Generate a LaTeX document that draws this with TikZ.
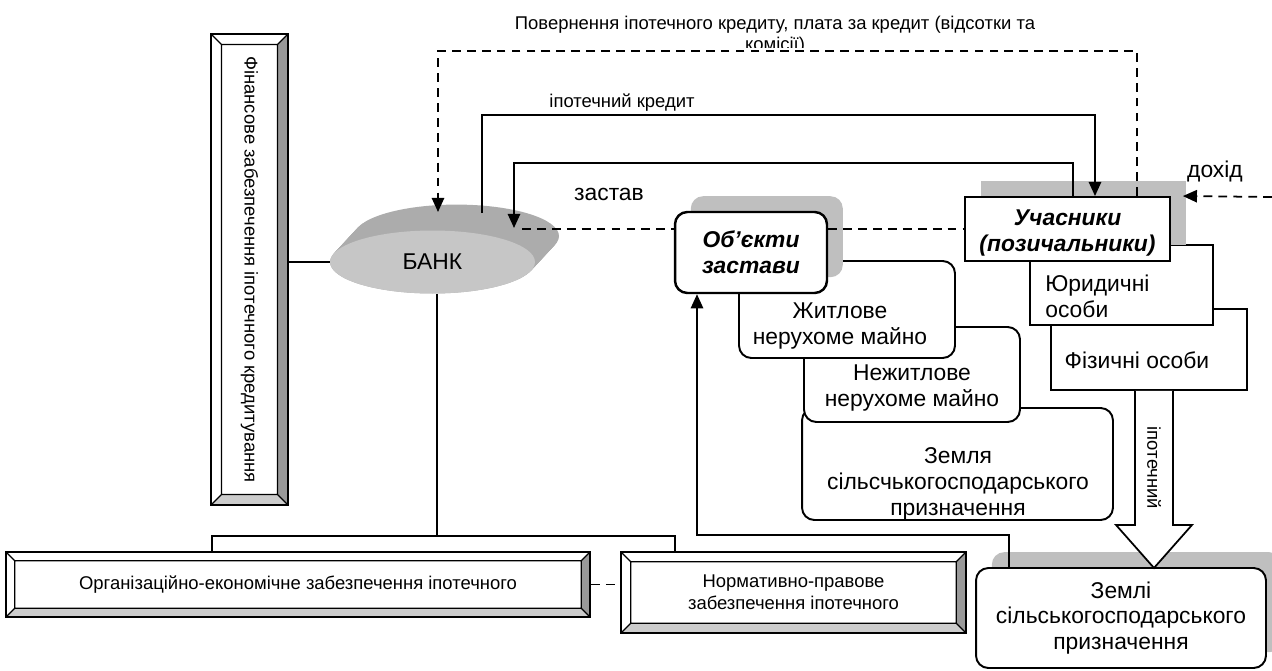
\documentclass[tikz,border=0pt]{standalone}
\usepackage{fontspec}
\setmainfont{Liberation Sans}
\usetikzlibrary{calc, shapes.geometric, shadows, arrows.meta}

\newcommand{\boxfont}{\fontsize{13}{14.7}\selectfont}
\newcommand{\notefont}{\fontsize{10.5}{12.3}\selectfont}

\tikzset{
  line/.style={line width=1pt},
  arr/.style={line width=1pt, -{Triangle[width=7pt,length=8pt]}},
  dashln/.style={line width=1pt, dash pattern=on 5pt off 3.5pt},
  box/.style={draw, fill=white, line width=1.1pt, inner sep=0pt, align=center, font=\boxfont},
  rbox/.style={box, rounded corners=7pt},
  shadebox/.style={general shadow={fill=gray!50, shadow xshift=9pt, shadow yshift=9pt}},
  txt/.style={inner sep=0pt, align=center, font=\boxfont},
  note/.style={inner sep=0pt, align=center, font=\notefont},
  bevel/.style={draw, fill=white, line width=1pt, inner sep=0pt, align=center, font=\notefont,
    path picture={
      \path (path picture bounding box.south west) coordinate (bvA)
            (path picture bounding box.north east) coordinate (bvB)
            (path picture bounding box.south east) coordinate (bvC)
            (path picture bounding box.north west) coordinate (bvD);
      \fill[gray!40] (bvA) -- (bvC) -- ++(-#1,#1) -- ($(bvA)+(#1,#1)$) -- cycle;
      \fill[gray!80] (bvC) -- (bvB) -- ++(-#1,-#1) -- ($(bvC)+(-#1,#1)$) -- cycle;
      \draw[line width=0.7pt] ($(bvA)+(#1,#1)$) rectangle ($(bvB)-(#1,#1)$)
        (bvA) -- ++(#1,#1) (bvB) -- ++(-#1,-#1)
        (bvC) -- ++(-#1,#1) (bvD) -- ++(#1,-#1);
    }},
  bevel/.default=5pt
}

\begin{document}
\begin{tikzpicture}[x=0.02cm, y=-0.02cm]
\useasboundingbox (0,0) rectangle (1272,670);

% title over the return line
\begin{scope}
  \clip (0,0) rectangle (1272,47);
  \node[note, font=\fontsize{10.5}{11.8}\selectfont] (ttl) at (775,35)
    {Повернення іпотечного кредиту, плата за кредит (відсотки та\\комісії)};
\end{scope}

% left side
\node[bevel=6pt, minimum width=1.54cm, minimum height=9.42cm] (fin) at (249.5,269.5)
  {\rotatebox{-90}{Фінансове забезпечення іпотечного кредитування}};
\foreach \t in {0,...,24}
  \fill[gray!65] ({432.5+\t},{262-1.08*\t}) ellipse [x radius=2.05cm, y radius=0.63cm];
\node[ellipse, fill=gray!45, minimum width=4.1cm, minimum height=1.26cm,
  inner sep=0pt, font=\boxfont] (bank) at (432.5,262) {БАНК};

\node[bevel, minimum width=11.68cm, minimum height=1.3cm] (org) at (298,584.5)
  {Організаційно-економічне забезпечення іпотечного};
\node[bevel=5.5pt, minimum width=6.9cm, minimum height=1.62cm] (norm) at (793.5,592.5)
  {Нормативно-правове\\забезпечення іпотечного};

% objects of pledge
\node[rbox, minimum width=6.22cm, minimum height=2.24cm] (zeml) at (957.5,464) {};
\node[rbox, minimum width=4.32cm, minimum height=1.9cm] (nezh) at (912,374.5) {};
\node[rbox, minimum width=4.32cm, minimum height=1.94cm] (zhytl) at (847,309.5) {};
\node[rbox, shadebox, line width=1.4pt, minimum width=3.04cm, minimum height=1.62cm,
  font=\boxfont\bfseries\itshape] (obj) at (751,252.5) {Об’єкти\\застави};
\node[txt] (zhytlT) at (840,326) {Житлове\\нерухоме майно};
\node[txt] (nezhT) at (912,388) {Нежитлове\\нерухоме майно};
\node[txt] (zemlT) at (958,484) {Земля\\сільсчькогосподарського\\призначення};

% participants
\node[box, minimum width=3.92cm, minimum height=1.62cm] (fiz) at (1149,349.5) {};
\node[box, minimum width=3.66cm, minimum height=1.6cm] (yur) at (1121.5,285) {};
\node[box, shadebox, minimum width=4.1cm, minimum height=1.28cm,
  font=\boxfont\bfseries\itshape] (uch) at (1067.5,229) {};
\node[txt, font=\boxfont\bfseries\itshape] (uchT) at (1067.5,233) {Учасники\\(позичальники)};
\node[txt, align=left, anchor=west] (yurT) at (1045,296) {Юридичні\\особи};
\node[txt] (fizT) at (1137,360) {Фізичні особи};

\node[rbox, shadebox, minimum width=5.8cm, minimum height=2cm] (zem) at (1121,618)
  {Землі\\сільськогосподарського\\призначення};

% points on the lines
\coordinate (bkR) at (522,229);
\coordinate (bk0) at (438,212);
\coordinate (bk1) at (482,213);
\coordinate (bk2) at (514,228);
\coordinate (rTop) at (1137,51);
\coordinate (kTop) at (1095,115);
\coordinate (zTop) at (1073,163);
\coordinate (dIn) at (1272,197);
\coordinate (hL) at (212,536);
\coordinate (hM) at (437,536);
\coordinate (hR) at (675,536);
\coordinate (jn) at (697,535);
\coordinate (zU) at (1009,568);

\draw[line] (fin.east |- bank.west) -- (bank.west);
\draw[line] (bank.south -| hM) -- (hM);
\draw[line] (hL |- org.north) -- (hL) -- (hR) -- (hR |- norm.north);
\draw[dashln] (org.east) -- (org.east -| norm.west);
\draw[dashln] (bkR) -- (bkR -| obj.west) (obj.east |- bkR) -- (bkR -| uch.west);
\draw[arr] (bk1) |- (kTop) -- (kTop |- uch.north);
\draw[arr] (zTop |- uch.north) -- (zTop) -| (bk2);
\draw[arr, dashln] (rTop |- uch.north) -- (rTop) -| (bk0);
\draw[arr, dashln] (dIn) -- ([xshift=6.8pt]uch.north east);
\draw[arr] (zU) |- (jn) -- (jn |- obj.south);
\draw[line, fill=white] ($(fiz.south)+(-14,0)$) -- ++(0,134) -- ++(-19,0)
  -- ++(38,43) -- ++(38,-43) -- ++(-19,0) -- ++(0,-134);

% labels
\node[note] (kred) at (622,103) {іпотечний кредит};
\node[txt] (zast) at (609,194) {застав};
\node[txt] (doh) at (1215,171) {дохід};
\node[note] (ipT) at (1154,468) {\rotatebox{-90}{іпотечний}};
\end{tikzpicture}
\end{document}
